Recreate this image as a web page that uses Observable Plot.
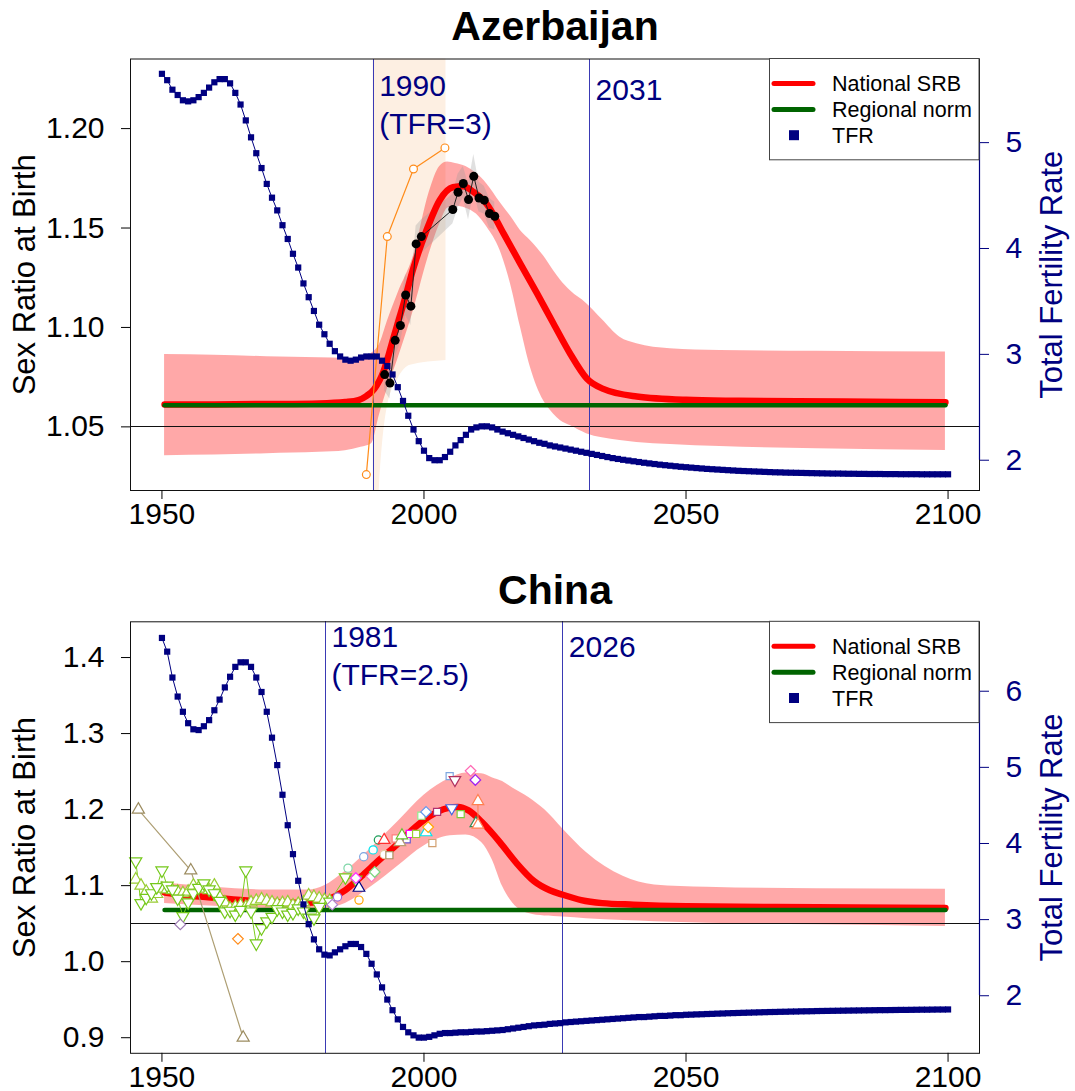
<!DOCTYPE html>
<html><head><meta charset="utf-8">
<script src="https://cdn.jsdelivr.net/npm/d3@7"></script>
<script src="https://cdn.jsdelivr.net/npm/@observablehq/plot@0.6"></script>
<style>
html,body{margin:0;padding:0;background:#fff;}
#chart svg{display:block;}
</style></head><body><div id="chart"></div>
<script>
const FONT = "'Liberation Sans', Arial, Helvetica, sans-serif";
const years = d3.range(1950, 2101);
const xTicks = [1950, 2000, 2050, 2100];

// ---------------- Azerbaijan ----------------
const azTFR = [
 5.65,5.59,5.50,5.45,5.40,5.39,5.40,5.43,5.47,5.52,
 5.57,5.60,5.60,5.56,5.47,5.36,5.21,5.05,4.90,4.76,
 4.61,4.48,4.36,4.22,4.09,3.95,3.82,3.67,3.54,3.41,
 3.28,3.19,3.10,3.03,2.98,2.95,2.94,2.95,2.97,2.98,
 2.98,2.98,2.94,2.89,2.81,2.69,2.56,2.42,2.29,2.18,
 2.09,2.02,2.00,2.00,2.03,2.08,2.14,2.19,2.24,2.29,
 2.31,2.32,2.32,2.31,2.29,2.27,2.255,2.24,2.225,2.21,
 2.195,2.18,2.165,2.155,2.14,2.13,2.12,2.11,2.10,2.09,
 2.08,2.07,2.06,2.05,2.04,2.03,2.02,2.012,2.004,1.997,
 1.99,1.983,1.976,1.97,1.964,1.958,1.953,1.948,1.943,1.938,
 1.934,1.93,1.926,1.922,1.918,1.915,1.912,1.909,1.906,1.903,
 1.90,1.898,1.896,1.894,1.892,1.89,1.888,1.886,1.885,1.883,
 1.882,1.881,1.88,1.879,1.878,1.877,1.876,1.875,1.874,1.874,
 1.873,1.872,1.872,1.871,1.871,1.870,1.870,1.870,1.869,1.869,
 1.869,1.868,1.868,1.868,1.868,1.867,1.867,1.867,1.867,1.867,
 1.867];
const azSrbYear = [1950.5,1960,1970,1980,1985,1987.5,1989,1990.5,1992.3,1994.2,1996.1,1998,2000.5,2003,2005.5,2007.5,2009.5,2012,2015.2,2018.4,2021.6,2024.7,2027.9,2031.1,2034.2,2040.6,2050,2060,2080,2099.5];
const azSrbMid  = [1.0612,1.0613,1.0615,1.0618,1.0625,1.0635,1.0655,1.069,1.078,1.095,1.112,1.130,1.149,1.164,1.1705,1.171,1.168,1.162,1.1472,1.132,1.117,1.102,1.0868,1.0742,1.0691,1.0653,1.0636,1.0631,1.0627,1.0624];
const azBandYear = [1950.5,1960,1970,1980,1985,1988,1990,1991.5,1993,1995,1998,2001,2003,2004.5,2006,2008,2010,2012,2014.5,2016.5,2018.4,2020.3,2022.8,2024.7,2026,2028,2031,2034,2037.4,2040.6,2047,2056.5,2075,2099.5];
const azBandHigh = [1.0864,1.0860,1.0853,1.0847,1.0844,1.0842,1.0870,1.0914,1.103,1.117,1.136,1.168,1.181,1.1832,1.1825,1.181,1.1775,1.1722,1.163,1.156,1.1488,1.1437,1.136,1.1287,1.124,1.1183,1.1121,1.104,1.0951,1.0918,1.0893,1.0884,1.088,1.0876];
const azBandLow  = [1.0355,1.0358,1.0365,1.0372,1.0380,1.0397,1.0415,1.0560,1.0690,1.0840,1.1086,1.137,1.152,1.1600,1.1610,1.1600,1.157,1.1505,1.1388,1.122,1.1002,1.080,1.0632,1.0565,1.0532,1.0505,1.0466,1.0445,1.0431,1.0422,1.0411,1.0401,1.039,1.0381];
const azNorm = 1.0609;
const azObsYear = [1992.5,1993.5,1994.5,1995.5,1996.5,1997.5,1998.5,1999.5,2005.5,2006.5,2007.5,2008.5,2009.5,2010.5,2011.5,2012.5,2013.5];
const azObsSRB  = [1.0763,1.072,1.0935,1.101,1.1163,1.1107,1.142,1.1457,1.1593,1.168,1.1724,1.1643,1.176,1.1651,1.164,1.1573,1.1559];
const azObsLow  = [1.068,1.064,1.085,1.092,1.106,1.101,1.133,1.137,1.152,1.160,1.165,1.154,1.168,1.158,1.157,1.150,1.149];
const azObsHigh = [1.086,1.081,1.104,1.110,1.127,1.120,1.151,1.154,1.167,1.177,1.181,1.172,1.187,1.173,1.171,1.165,1.163];
const azOrangeYear = [1989,1993,1998,2004];
const azOrangeSRB  = [1.026,1.1457,1.1797,1.1903];
const azPeachYear = [1990.3,1991.5,1993,1995,1997.4,2004.2];
const azPeachLow  = [0.95,1.02,1.06,1.074,1.081,1.0834];
const azPeachHigh = [1.30,1.30,1.30,1.30,1.30,1.30];
const azVYear = [1990.3, 2031.6];
const azVLabel = ["1990\n(TFR=3)", "2031"];
const azSrbTicks = [1.05, 1.10, 1.15, 1.20];
const azTfrTicks = [2, 3, 4, 5];

// ---------------- China ----------------
const cnTFR = [
 6.70,6.52,6.18,5.93,5.73,5.58,5.50,5.49,5.54,5.62,
 5.75,5.89,6.05,6.19,6.32,6.38,6.38,6.32,6.18,5.99,
 5.73,5.39,5.03,4.64,4.24,3.86,3.51,3.20,2.94,2.74,
 2.61,2.54,2.53,2.57,2.61,2.65,2.68,2.68,2.64,2.55,
 2.42,2.28,2.11,1.95,1.81,1.69,1.59,1.52,1.48,1.45,
 1.45,1.46,1.48,1.50,1.51,1.51,1.515,1.52,1.52,1.525,
 1.53,1.53,1.535,1.54,1.545,1.55,1.56,1.57,1.58,1.59,
 1.60,1.61,1.615,1.62,1.63,1.635,1.64,1.65,1.655,1.66,
 1.665,1.67,1.675,1.68,1.685,1.69,1.695,1.70,1.705,1.71,
 1.715,1.72,1.72,1.725,1.73,1.735,1.735,1.74,1.745,1.745,
 1.75,1.752,1.755,1.757,1.76,1.762,1.765,1.767,1.77,1.772,
 1.774,1.776,1.778,1.78,1.782,1.784,1.786,1.787,1.789,1.79,
 1.792,1.793,1.795,1.796,1.797,1.799,1.80,1.801,1.802,1.803,
 1.804,1.805,1.806,1.807,1.808,1.809,1.81,1.811,1.811,1.812,
 1.813,1.814,1.814,1.815,1.816,1.817,1.817,1.818,1.819,1.819,
 1.82];
const cnSrbYear = [1950.5,1955,1960,1965,1970,1975,1978,1981,1983,1985,1988,1991.5,1995,1998,2001,2004.5,2006.5,2008.5,2011,2014.5,2017.5,2021,2024,2026.5,2030,2034,2040,2050,2075,2099.5];
const cnSrbMid  = [1.091,1.087,1.084,1.081,1.079,1.0775,1.0775,1.080,1.086,1.094,1.112,1.134,1.155,1.175,1.191,1.202,1.2035,1.199,1.184,1.157,1.131,1.106,1.094,1.088,1.081,1.077,1.075,1.073,1.0715,1.0705];
const cnBandYear = [1950.5,1960,1970,1978,1981,1985,1990,1995,2000,2005,2008,2011,2013,2015,2017,2020,2023,2026.5,2031,2038,2044,2054,2075,2099.5];
const cnBandHigh = [1.1034,1.098,1.0944,1.0944,1.100,1.119,1.150,1.184,1.219,1.2414,1.248,1.2472,1.242,1.237,1.228,1.216,1.200,1.1746,1.1435,1.1123,1.101,1.098,1.096,1.0953];
const cnBandLow  = [1.0766,1.073,1.070,1.0686,1.070,1.0766,1.0988,1.1256,1.1523,1.1657,1.1666,1.1568,1.1345,1.0988,1.0766,1.0633,1.0600,1.0587,1.0565,1.054,1.0525,1.0505,1.0485,1.0463];
const cnNorm = 1.068;
const cnDownYear = [1945,1946,1947,1948,1949,1950,1951,1952,1953,1954,1955,1956,1957,1958,1959,1960,1961,1962,1963,1964,1965,1966,1967,1968,1969,1970,1971,1972,1973,1974,1975,1976,1977,1978,1979,1980,1982,1985,1987];
const cnDownSRB  = [1.132,1.077,1.084,1.090,1.098,1.120,1.100,1.095,1.083,1.060,1.078,1.090,1.097,1.103,1.095,1.090,1.080,1.066,1.067,1.062,1.068,1.120,1.066,1.024,1.044,1.053,1.059,1.069,1.066,1.062,1.064,1.070,1.066,1.058,1.057,1.072,1.079,1.111,1.108];
const cnUpYear = d3.range(1945, 1983);
const cnUpSRB  = [1.108,1.100,1.092,1.083,1.089,1.096,1.095,1.094,1.092,1.090,1.092,1.100,1.097,1.096,1.094,1.100,1.085,1.078,1.070,1.072,1.074,1.072,1.078,1.080,1.082,1.080,1.078,1.076,1.077,1.078,1.074,1.076,1.078,1.087,1.085,1.083,1.081,1.080];
const cnTanYear = [1945.5,1955.5,1965.5];
const cnTanSRB  = [1.200,1.120,0.900];
const cnOtherYear  = [1953.5,1964.5,1982.5,1983.5,1985.5,1987.0,1987.6,1987.6,1988.5,1990.3,1991.3,1992.4,1990.0,1990.6,1993.4,1992.4,1994.6,1995.4,1995.8,1996.7,1997.3,1998.5,2000.4,2000.8,2001.6,1999.5,2000.4,2002.5,2005.3,2007.0,2004.9,2005.9,2008.9,2009.8,2010.3,2009.9,2010.3];
const cnOtherSRB   = [1.049,1.030,1.075,1.085,1.123,1.110,1.097,1.081,1.138,1.147,1.160,1.160,1.112,1.118,1.140,1.141,1.162,1.157,1.166,1.161,1.168,1.168,1.170,1.177,1.156,1.192,1.197,1.197,1.202,1.194,1.244,1.239,1.251,1.239,1.211,1.182,1.180];
const cnOtherShape = ["diamond","diamond","diamond","circle","circle","diamond","triangle","circle","circle","circle","circle","triangle","diamond","diamond","square","circle","square","triangle","triangle","square","square","square","triangle","diamond","square","square","diamond","square","down","square","square","down","diamond","diamond","triangle","triangle","triangle"];
const cnOtherColor = ["#9E7BB5","#FF8C1A","#B07FD0","#A066D8","#7FD6A8","#FF33FF","#000080","#FFA500","#7EA6E0","#00E5EE","#1E9E5A","#FF3030","#FF7FBF","#7FD67F","#A89060","#E8C9A0","#FF7F7F","#B8A070","#66C22E","#6A5ACD","#FF00FF","#9ACD32","#00E5EE","#FFA500","#D2A070","#90EE90","#6495ED","#B0306F","#4169E1","#7CCD3C","#7EA6E0","#B03060","#FF69B4","#A020F0","#FF7F50","#2E8B57","#FF7F50"];
const cnCoralYear = [2010.3, 2010.3];
const cnCoralSRB  = [1.211, 1.180];
const cnVYear = [1981.2, 2026.5];
const cnVLabel = ["1981\n(TFR=2.5)", "2026"];
const cnSrbTicks = [0.9, 1.0, 1.1, 1.2, 1.3, 1.4];
const cnTfrTicks = [2, 3, 4, 5, 6];

const downTriangle = {
  draw(context, size) {
    const y = -Math.sqrt(size / (Math.sqrt(3) * 3));
    context.moveTo(0, -y * 2);
    context.lineTo(-Math.sqrt(3) * y, y);
    context.lineTo(Math.sqrt(3) * y, y);
    context.closePath();
  }
};
const symbolOf = s => s === "down" ? downTriangle : (s === "diamond" ? "diamond2" : s);
const symR = {circle: 4.1, square: 4.0, triangle: 4.3, down: 4.3, diamond: 4.8};
const VCOL = "#3a3ab4";

function makePanel(p) {
  const [y0, y1] = p.yDomain, [t0, t1] = p.tDomain;
  const toY = t => y0 + (t - t0) * (y1 - y0) / (t1 - t0);
  const toT = v => t0 + (v - y0) * (t1 - t0) / (y1 - y0);
  const tfr = years.map((yr, i) => ({yr, v: toY(p.tfr[i])}));
  const srb = p.srbYear.map((yr, i) => ({yr, v: p.srbMid[i]}));
  const band = p.bandYear.map((yr, i) => ({yr, lo: p.bandLow[i], hi: p.bandHigh[i]}));
  const norm = [{yr: 1950.5, v: p.norm}, {yr: 2099.5, v: p.norm}];
  const vl = p.vYear.map((yr, i) => ({yr, label: p.vLabel[i]}));
  const marks = [];
  if (p.pre) marks.push(...p.pre);
  marks.push(Plot.areaY(band, {x: "yr", y1: "lo", y2: "hi", fill: "#ff0000", fillOpacity: 0.34, curve: "monotone-x", clip: true}));
  if (p.mid) marks.push(...p.mid);
  marks.push(Plot.ruleY([1.05], {stroke: "#111", strokeWidth: 1, shapeRendering: "crispEdges"}));
  marks.push(Plot.ruleX(vl, {x: "yr", stroke: VCOL, strokeWidth: 1, shapeRendering: "crispEdges"}));
  marks.push(Plot.line(srb, {x: "yr", y: "v", stroke: "#ff0000", strokeWidth: 6.5, curve: "monotone-x", strokeLinecap: "round"}));
  marks.push(Plot.line(norm, {x: "yr", y: "v", stroke: "#006400", strokeWidth: 4.5, strokeLinecap: "round"}));
  if (p.data) marks.push(...p.data);
  marks.push(Plot.line(tfr, {x: "yr", y: "v", stroke: "#000080", strokeWidth: 1}));
  marks.push(Plot.dot(tfr, {x: "yr", y: "v", symbol: "square", r: 3.5, fill: "#000080"}));
  marks.push(Plot.frame({stroke: "#111", strokeWidth: 1}));
  marks.push(Plot.ruleX([2106], {y1: toY(p.tTicks[0]), y2: toY(p.tTicks[p.tTicks.length - 1]), stroke: "#000080", strokeWidth: 1.2}));
  marks.push(Plot.axisX(xTicks, {tickFormat: d => String(d), tickSize: 9, tickPadding: 3, label: null}));
  marks.push(Plot.axisY(p.yTicks, {anchor: "left", tickFormat: p.yFmt, tickSize: 9, tickPadding: 17, label: null}));
  marks.push(Plot.axisY(p.tTicks.map(toY), {anchor: "right", tickFormat: v => String(Math.round(toT(v))), color: "#000080", tickSize: 9, tickPadding: 17, label: null}));
  vl.forEach((d, i) => marks.push(Plot.text([d], {x: "yr", text: "label", frameAnchor: "top", dy: p.vDy[i], textAnchor: "start", dx: 6, lineAnchor: "top", lineHeight: 1.27, fill: "#000080", fontSize: 30})));
  marks.push(Plot.text([p.title], {frameAnchor: "top", dy: p.titleDy, lineAnchor: "middle", textAnchor: "middle", fontSize: 41, fontWeight: "bold", fill: "black"}));
  marks.push(Plot.text(["Sex Ratio at Birth"], {frameAnchor: "left", dx: -105.5, rotate: -90, textAnchor: "middle", lineAnchor: "middle", fontSize: 31, fill: "black"}));
  marks.push(Plot.text(["Total Fertility Rate"], {frameAnchor: "right", dx: 72.5, rotate: -90, textAnchor: "middle", lineAnchor: "middle", fontSize: 31, fill: "#000080"}));
  const svg = Plot.plot({
    width: 1075, height: p.height,
    marginTop: p.mt, marginBottom: p.mb, marginLeft: 130, marginRight: 96,
    x: {domain: [1944, 2106]},
    y: {domain: p.yDomain},
    color: {type: "identity"},
    style: {fontFamily: FONT, fontSize: "30px", background: "white", color: "black", overflow: "visible"},
    marks
  });
  addLegend(svg, p.mt);
  return svg;
}

function addLegend(svg, top) {
  const g = d3.select(svg).append("g").attr("font-family", FONT).attr("font-size", 21.5).attr("text-anchor", "start");
  g.append("rect").attr("x", 769.5).attr("y", top).attr("width", 209.5).attr("height", 101.3).attr("fill", "white").attr("stroke", "#444").attr("stroke-width", 1);
  const rows = [25, 51, 76.7];
  g.append("line").attr("x1", 774).attr("x2", 813).attr("y1", top + rows[0]).attr("y2", top + rows[0]).attr("stroke", "#ff0000").attr("stroke-width", 5).attr("stroke-linecap", "round");
  g.append("line").attr("x1", 774).attr("x2", 813).attr("y1", top + rows[1]).attr("y2", top + rows[1]).attr("stroke", "#006400").attr("stroke-width", 5).attr("stroke-linecap", "round");
  g.append("rect").attr("x", 789).attr("y", top + rows[2] - 5).attr("width", 10).attr("height", 10).attr("fill", "#000080");
  const labels = ["National SRB", "Regional norm", "TFR"];
  labels.forEach((t, i) => g.append("text").attr("x", 832).attr("y", top + rows[i] + 7.7).attr("fill", "black").attr("text-anchor", "start").text(t));
}

const az = makePanel({
  title: "Azerbaijan", titleDy: -32, height: 562, mt: 58.5, mb: 72,
  yDomain: [1.018, 1.235], tDomain: [1.714, 5.79],
  yTicks: azSrbTicks, yFmt: d => d.toFixed(2), tTicks: azTfrTicks,
  tfr: azTFR, srbYear: azSrbYear, srbMid: azSrbMid,
  bandYear: azBandYear, bandLow: azBandLow, bandHigh: azBandHigh, norm: azNorm,
  vYear: azVYear, vLabel: azVLabel, vDy: [10.3, 13.8],
  pre: [Plot.areaY(azPeachYear.map((yr, i) => ({yr, lo: azPeachLow[i], hi: azPeachHigh[i]})), {x: "yr", y1: "lo", y2: "hi", fill: "#fdefe2", curve: "monotone-x", clip: true})],
  mid: [Plot.areaY(azObsYear.map((yr, i) => ({yr, lo: azObsLow[i], hi: azObsHigh[i]})), {x: "yr", y1: "lo", y2: "hi", fill: "#999", fillOpacity: 0.3})],
  data: [
    Plot.line(azOrangeYear.map((yr, i) => ({yr, v: azOrangeSRB[i]})), {x: "yr", y: "v", stroke: "#ff8c1a", strokeWidth: 1.2}),
    Plot.dot(azOrangeYear.map((yr, i) => ({yr, v: azOrangeSRB[i]})), {x: "yr", y: "v", r: 3.9, fill: "white", stroke: "#ff8c1a", strokeWidth: 1.2}),
    Plot.line(azObsYear.map((yr, i) => ({yr, v: azObsSRB[i]})), {x: "yr", y: "v", stroke: "#222", strokeWidth: 1}),
    Plot.dot(azObsYear.map((yr, i) => ({yr, v: azObsSRB[i]})), {x: "yr", y: "v", r: 4.5, fill: "black"})
  ]
});

const cnOther = cnOtherYear.map((yr, i) => ({yr, v: cnOtherSRB[i], s: cnOtherShape[i], c: cnOtherColor[i]}));
const cnData = [
  Plot.line(cnTanYear.map((yr, i) => ({yr, v: cnTanSRB[i]})), {x: "yr", y: "v", stroke: "#ad9e73", strokeWidth: 1.2}),
  Plot.dot(cnTanYear.map((yr, i) => ({yr, v: cnTanSRB[i]})), {x: "yr", y: "v", symbol: "triangle", r: 4.5, fill: "white", stroke: "#9c8c60", strokeWidth: 1.2}),
  Plot.line(cnDownYear.map((yr, i) => ({yr, v: cnDownSRB[i]})), {x: "yr", y: "v", stroke: "#7ccd1e", strokeWidth: 1}),
  Plot.line(cnUpYear.map((yr, i) => ({yr, v: cnUpSRB[i]})), {x: "yr", y: "v", stroke: "#a6d64a", strokeWidth: 1}),
  Plot.dot(cnUpYear.map((yr, i) => ({yr, v: cnUpSRB[i]})), {x: "yr", y: "v", symbol: "triangle", r: 4.5, fill: "white", stroke: "#99cc33", strokeWidth: 1.2}),
  Plot.dot(cnDownYear.map((yr, i) => ({yr, v: cnDownSRB[i]})), {x: "yr", y: "v", symbol: downTriangle, r: 4.5, fill: "white", stroke: "#74c81a", strokeWidth: 1.2}),
  Plot.line(cnCoralYear.map((yr, i) => ({yr, v: cnCoralSRB[i]})), {x: "yr", y: "v", stroke: "#ff7f50", strokeWidth: 1}),
  ...["circle", "square", "triangle", "down", "diamond"].map(s =>
    Plot.dot(cnOther.filter(d => d.s === s), {x: "yr", y: "v", symbol: symbolOf(s), r: symR[s], fill: "white", stroke: "c", strokeWidth: 1.2}))
];

const cn = makePanel({
  title: "China", titleDy: -31.4, height: 529, mt: 59.3, mb: 38.2,
  yDomain: [0.8795, 1.447], tDomain: [1.244, 6.912],
  yTicks: cnSrbTicks, yFmt: d => d.toFixed(1), tTicks: cnTfrTicks,
  tfr: cnTFR, srbYear: cnSrbYear, srbMid: cnSrbMid,
  bandYear: cnBandYear, bandLow: cnBandLow, bandHigh: cnBandHigh, norm: cnNorm,
  vYear: cnVYear, vLabel: cnVLabel, vDy: [-1.5, 8.6],
  data: cnData
});

document.getElementById("chart").append(az, cn);
</script></body></html>
